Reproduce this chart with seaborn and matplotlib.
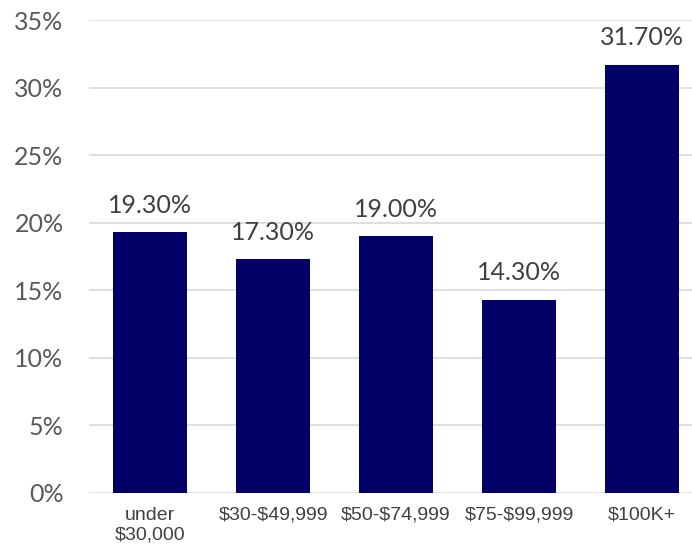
import matplotlib
matplotlib.use("Agg")
import matplotlib.pyplot as plt
import seaborn as sns
import pandas as pd

categories = ["under\n$30,000", "$30-$49,999", "$50-$74,999", "$75-$99,999", "$100K+"]
values = [19.3, 17.3, 19.0, 14.3, 31.7]
yticks = [0, 5, 10, 15, 20, 25, 30, 35]

sns.set_theme(style="white")
plt.rcParams['font.family'] = ['Lato', 'DejaVu Sans']
plt.rcParams['text.parse_math'] = False

df = pd.DataFrame({"cat": categories, "val": values})
fig = plt.figure(figsize=(6.92, 5.48), dpi=100)
ax = fig.add_axes([0.128, 0.1004, 0.8886, 0.8631])
sns.barplot(data=df, x="cat", y="val", color="#000066", width=0.6, saturation=1,
            ax=ax, zorder=3, linewidth=0)
ax.set_ylim(0, 35)
ax.set_xlim(-0.5, 4.5)
ax.set_yticks(yticks)
ax.set_yticklabels([f"{t}%" for t in yticks], fontsize=18, color="#595959")
ax.yaxis.grid(True, color="#d9d9d9", linewidth=1.2, zorder=0)
ax.set_axisbelow(True)
for s in ax.spines.values():
    s.set_visible(False)
ax.tick_params(axis="both", length=0)
ax.tick_params(axis="y", pad=18)
ax.tick_params(axis="x", pad=10)
for lbl in ax.get_xticklabels():
    lbl.set_fontfamily(["Liberation Sans", "DejaVu Sans"])
    lbl.set_fontsize(14)
    lbl.set_color("#404040")
ax.set_xlabel("")
ax.set_ylabel("")
for i, v in enumerate(values):
    ax.annotate(f"{v:.2f}%", (i, v), xytext=(0, 11), textcoords="offset points",
                ha="center", va="bottom", fontsize=18, color="#404040")
fig.savefig("out.png", dpi=100)
